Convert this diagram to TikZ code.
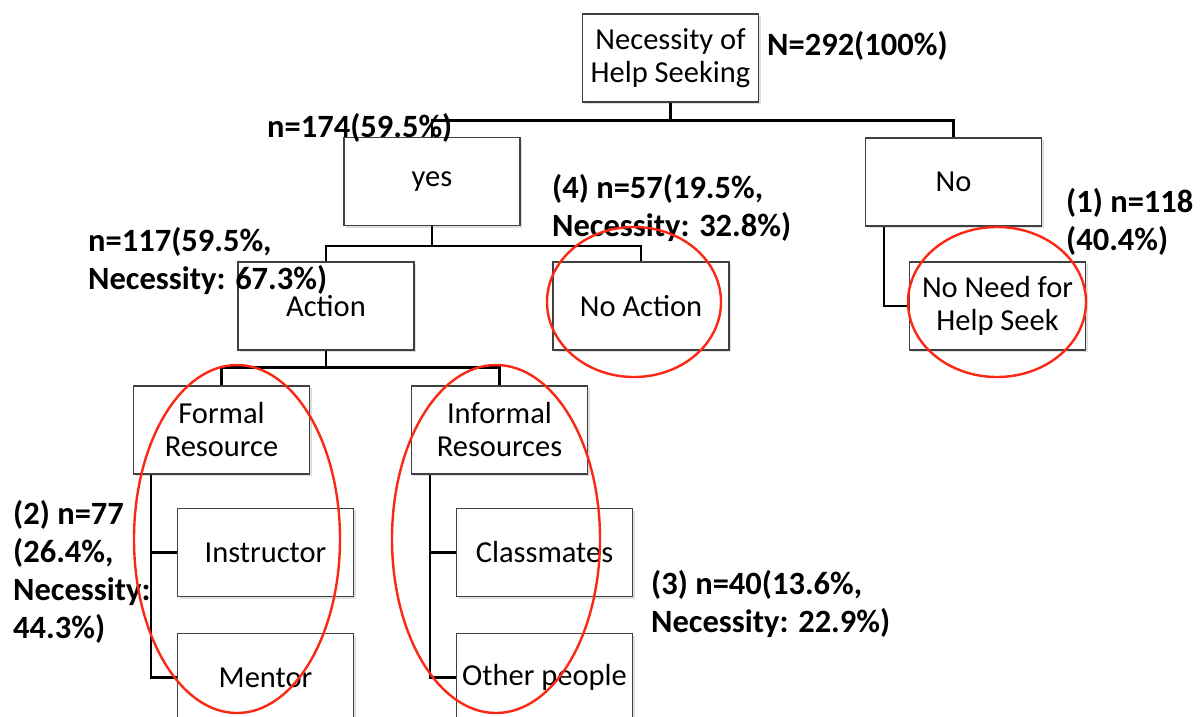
\documentclass[tikz,border=0pt]{standalone}
\usepackage{fontspec}
\setmainfont{Carlito}
\usetikzlibrary{shadows}
\definecolor{ringred}{RGB}{250,40,20}

\begin{document}
\begin{tikzpicture}[x=1pt,y=-1pt,
    box/.style={draw=black!75, line width=1.2pt, fill=white, minimum width=176pt, minimum height=88pt,
        align=center, inner sep=0pt, font=\fontsize{30.5}{33}\selectfont,
        drop shadow={shadow xshift=2pt, shadow yshift=-2pt, opacity=.25}},
    stat/.style={anchor=base west, align=left, inner sep=0pt, font=\bfseries\fontsize{32.5}{38}\selectfont},
    link/.style={line width=2.6pt},
    ring/.style={draw=ringred, line width=2.4pt}]
    \useasboundingbox (0,0) rectangle (1201,716);
    % The boxes of the tree.
        \node[box] (root) at (670.5,58) {Necessity of\\Help Seeking};
        \node[box] (yes) at (432,181.5) {yes};
        \node[box] (no) at (953.5,182) {No};
        \node[box] (act) at (326,306) {Action};
        \node[box] (noact) at (641,306) {No Action};
        \node[box] (need) at (997.5,306) {No Need for\\Help Seek};
        \node[box] (formal) at (221.5,430) {Formal\\Resource};
        \node[box] (informal) at (499.5,430) {Informal\\Resources};
        \node[box] (instr) at (265.5,552.5) {Instructor};
        \node[box] (mentor) at (265.5,677.5) {Mentor};
        \node[box] (mates) at (544.5,552.5) {Classmates};
        \node[box] (other) at (544.5,677.5) {Other people};
    % This draws the links between the boxes.
        \draw[link] (root.south) -- ++(0,18) -| (yes.north);
        \draw[link] (root.south) -- ++(0,18) -| (no.north);
        \draw[link] (yes.south) -- ++(0,20) -| (act.north);
        \draw[link] (yes.south) -- ++(0,20) -| (noact.north);
        \draw[link] (no.south west) ++(19,0) |- (need.west);
        \draw[link] (act.south) -- ++(0,17) -| (formal.north);
        \draw[link] (act.south) -- ++(0,17) -| (informal.north);
        \draw[link] (formal.south west) ++(18,0) |- (instr.west);
        \draw[link] (formal.south west) ++(18,0) |- (mentor.west);
        \draw[link] (informal.south west) ++(19,0) |- (mates.west);
        \draw[link] (informal.south west) ++(19,0) |- (other.west);
    % Below nodes are the counts (anchored on the last line).
        \node[stat] (ntotal) at (767,55) {N=292(100\%)};
        \node[stat] (nyes) at (267,137) {n=174(59.5\%)};
        \node[stat] (nnoact) at (552,236) {(4) n=57(19.5\%,\\Necessity: 32.8\%)};
        \node[stat] (nact) at (88,289) {n=117(59.5\%,\\Necessity: 67.3\%)};
        \node[stat] (nneed) at (1066,250) {(1) n=118\\(40.4\%)};
        \node[stat] (nformal) at (13,638) {(2) n=77\\(26.4\%,\\Necessity:\\44.3\%)};
        \node[stat] (ninformal) at (651,632) {(3) n=40(13.6\%,\\Necessity: 22.9\%)};
    % The red rings round the groups.
        \draw[ring] (634,302) ellipse [x radius=87, y radius=75];
        \draw[ring] (997,302) ellipse [x radius=89, y radius=75];
        \draw[ring] (237,539) ellipse [x radius=103, y radius=174];
        \draw[ring] (496,539) ellipse [x radius=104, y radius=174];
\end{tikzpicture}
\end{document}
